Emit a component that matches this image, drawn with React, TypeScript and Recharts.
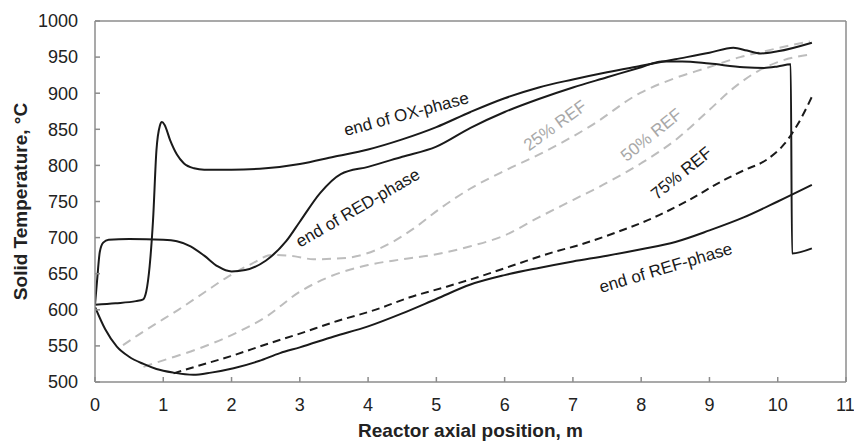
import { LineChart, Line, XAxis, YAxis, ReferenceLine, ReferenceDot } from "recharts"

const xTicks = [0, 1, 2, 3, 4, 5, 6, 7, 8, 9, 10, 11]
const yTicks = [500, 550, 600, 650, 700, 750, 800, 850, 900, 950, 1000]

// end of OX-phase
const oxX = [0, 0.3, 0.6, 0.7, 0.75, 0.8, 0.85, 0.9, 0.95, 0.98, 1.02, 1.1, 1.2, 1.3, 1.45, 1.6, 2, 2.5, 3, 3.5, 4, 4.5, 5, 5.5, 6, 6.5, 7, 7.5, 8, 8.5, 9, 9.35, 9.55, 9.75, 10, 10.5]
const oxT = [607, 609, 612, 614, 625, 660, 724, 821, 855, 860, 856, 835, 815, 803, 796, 794, 794, 796, 802, 812, 822, 836, 853, 874, 893, 908, 919, 929, 938, 947, 956, 963, 959, 955, 958, 970]

// end of RED-phase
const redX = [0, 0.03, 0.07, 0.12, 0.2, 0.5, 1, 1.2, 1.4, 1.6, 1.8, 2, 2.2, 2.5, 2.8, 3, 3.3, 3.6, 4, 4.5, 5, 5.5, 6, 6.5, 7, 7.5, 8, 8.3, 8.6, 9, 9.5, 9.8, 10, 10.19, 10.21, 10.5]
const redT = [607, 640, 680, 693, 697, 698, 697, 695, 688, 675, 660, 653, 655, 668, 695, 722, 762, 788, 798, 812, 826, 852, 874, 892, 908, 922, 936, 944, 944, 941, 936, 935, 937, 940, 678, 685]

// end of REF-phase
const refX = [0, 0.15, 0.32, 0.5, 0.71, 0.9, 1.15, 1.44, 1.7, 2.03, 2.4, 2.71, 3, 3.5, 4, 4.5, 5, 5.5, 6, 6.5, 7, 7.5, 8, 8.5, 9, 9.5, 10, 10.5]
const refT = [604, 573, 549, 535, 525, 518, 513, 510, 513, 519, 529, 540, 548, 563, 577, 595, 615, 635, 648, 658, 667, 675, 684, 694, 710, 728, 750, 773]

// 25% REF
const r25X = [0.41, 0.63, 1, 1.22, 1.6, 1.95, 2.3, 2.59, 2.93, 3.2, 3.69, 4.17, 4.66, 5.05, 5.5, 6.03, 6.5, 7.25, 7.98, 8.47, 8.96, 9.45, 9.8, 10.47]
const r25T = [551, 565, 587, 600, 624, 646, 664, 676, 674, 670, 672, 685, 712, 740, 768, 794, 815, 854, 900, 920, 935, 950, 958, 972]

// 50% REF
const r50X = [0.71, 1, 1.54, 2, 2.5, 3, 3.44, 4, 4.5, 5, 5.5, 6, 6.5, 7, 7.5, 8, 8.5, 9, 9.35, 9.7, 10, 10.5]
const r50T = [521, 530, 547, 565, 590, 625, 646, 662, 670, 677, 688, 703, 728, 752, 776, 803, 835, 877, 907, 930, 943, 954]

// 75% REF
const r75X = [1.15, 1.5, 2.03, 2.5, 3, 3.5, 4.17, 4.6, 5.15, 5.7, 6.2, 6.72, 7.1, 7.6, 8.19, 8.7, 9.16, 9.5, 9.84, 10.1, 10.3, 10.5]
const r75T = [512, 522, 537, 552, 567, 583, 602, 617, 632, 648, 664, 680, 690, 706, 728, 752, 777, 793, 808, 830, 858, 895]

const rows = (xs: number[], ts: number[]) => xs.map((x, i) => ({ x, t: ts[i] }))

const annotations = [
  { text: "end of OX-phase", x: 4.56, t: 871, angle: -15, color: "#1a1a1a" },
  { text: "end of RED-phase", x: 3.85, t: 741, angle: -30, color: "#1a1a1a" },
  { text: "25% REF", x: 6.74, t: 855, angle: -36, color: "#a8a8a8" },
  { text: "50% REF", x: 8.15, t: 842, angle: -39, color: "#a8a8a8" },
  { text: "75% REF", x: 8.59, t: 789, angle: -39, color: "#1a1a1a" },
  { text: "end of REF-phase", x: 8.36, t: 658, angle: -16.6, color: "#1a1a1a" },
]

const font = "'Liberation Sans', Arial, sans-serif"
const axisColor = "#8c8c8c"

const App = () => {
  return (
    <div style={{ position: "absolute", left: 0, top: 0, background: "#fff" }}>
      <LineChart width={854} height={442} margin={{ top: 21, right: 8, bottom: 30, left: 35 }} style={{ fontFamily: font }}>
        <XAxis
          dataKey="x"
          type="number"
          domain={[0, 11]}
          ticks={xTicks}
          allowDataOverflow
          stroke={axisColor}
          strokeWidth={1.5}
          tickSize={-5}
          tickMargin={21}
          height={30}
          tick={{ fill: "#222", fontSize: 18 }}
          label={{
            content: (p: any) => (
              <text x={p.viewBox.x + p.viewBox.width / 2} y={437} textAnchor="middle" fontSize={19} fontWeight="bold" fill="#222">
                Reactor axial position, m
              </text>
            ),
          }}
        />
        <YAxis
          type="number"
          domain={[500, 1000]}
          ticks={yTicks}
          allowDataOverflow
          stroke={axisColor}
          strokeWidth={1.5}
          tickSize={-5}
          tickMargin={22}
          width={60}
          tick={{ fill: "#222", fontSize: 18 }}
          label={{
            content: (p: any) => {
              const cx = 20
              const cy = p.viewBox.y + p.viewBox.height / 2
              return (
                <text x={cx} y={cy} transform={`rotate(-90, ${cx}, ${cy})`} textAnchor="middle" dominantBaseline="central" fontSize={19} fontWeight="bold" fill="#222">
                  Solid Temperature, °C
                </text>
              )
            },
          }}
        />
        <ReferenceLine y={1000} stroke={axisColor} strokeWidth={1.5} />
        <ReferenceLine x={11} stroke={axisColor} strokeWidth={1.5} />

        <Line data={rows(r25X, r25T)} dataKey="t" type="monotone" stroke="#bdbdbd" strokeWidth={2} strokeDasharray="9 6" dot={false} isAnimationActive={false} />
        <Line data={rows(r50X, r50T)} dataKey="t" type="monotone" stroke="#bdbdbd" strokeWidth={2} strokeDasharray="9 6" dot={false} isAnimationActive={false} />
        <Line data={rows(r75X, r75T)} dataKey="t" type="monotone" stroke="#1a1a1a" strokeWidth={2} strokeDasharray="8 5" dot={false} isAnimationActive={false} />
        <Line data={rows(refX, refT)} dataKey="t" type="monotone" stroke="#1a1a1a" strokeWidth={2} dot={false} isAnimationActive={false} />
        <Line data={rows(redX, redT)} dataKey="t" type="monotone" stroke="#1a1a1a" strokeWidth={2} dot={false} isAnimationActive={false} />
        <Line data={rows(oxX, oxT)} dataKey="t" type="monotone" stroke="#1a1a1a" strokeWidth={2} dot={false} isAnimationActive={false} />

        {annotations.map((a) => (
          <ReferenceDot
            key={a.text}
            x={a.x}
            y={a.t}
            r={1}
            fill="none"
            stroke="none"
            label={{
              content: (p: any) => {
                const cx = p.viewBox.x + p.viewBox.width / 2
                const cy = p.viewBox.y + p.viewBox.height / 2
                return (
                  <text x={cx} y={cy} transform={`rotate(${a.angle}, ${cx}, ${cy})`} textAnchor="middle" dominantBaseline="central" fontSize={17} fill={a.color}>
                    {a.text}
                  </text>
                )
              },
            }}
          />
        ))}
      </LineChart>
    </div>
  )
}

export default App
